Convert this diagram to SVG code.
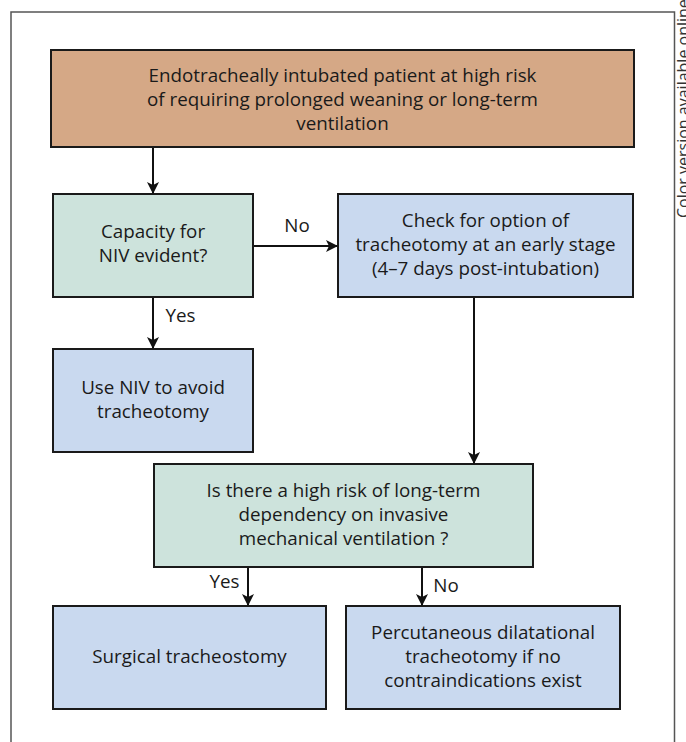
<svg xmlns="http://www.w3.org/2000/svg" width="686" height="742" viewBox="0 0 686 742">
<defs>
<marker id="ah" markerWidth="12" markerHeight="14" refX="11" refY="7" orient="auto" markerUnits="userSpaceOnUse">
<path d="M0,1 L12,7 L0,13 L3,7 Z" fill="#111"/>
</marker>
<style>
.box{stroke:#1a1a1a;stroke-width:2}
.tan{fill:#d5a886}
.grn{fill:#cde3dc}
.blu{fill:#c9d9ef}
text{font-family:"Open Sans","Noto Sans",sans-serif;font-size:18.8px;fill:#1a1a1a;text-anchor:middle}
.conn line{stroke:#111;stroke-width:2;marker-end:url(#ah)}
</style>
</defs>
<rect width="686" height="742" fill="#fff"/>
<path d="M11,742 V12 H674.5 V742" fill="none" stroke="#555" stroke-width="1.5"/>
<text transform="translate(689,218) rotate(-90)" style="font-size:16px;text-anchor:start;fill:#333">Color version available online</text>

<g id="n1">
<rect class="box tan" x="51" y="50" width="583" height="97"/>
<text x="342.5" y="82">Endotracheally intubated patient at high risk</text>
<text x="342.5" y="106">of requiring prolonged weaning or long-term</text>
<text x="342.5" y="130">ventilation</text>
</g>
<g id="n2">
<rect class="box grn" x="53" y="194" width="200" height="103"/>
<text x="153" y="238">Capacity for</text>
<text x="153" y="262">NIV evident?</text>
</g>
<g id="n3">
<rect class="box blu" x="338" y="194" width="295" height="103"/>
<text x="485.5" y="227">Check for option of</text>
<text x="485.5" y="251">tracheotomy at an early stage</text>
<text x="485.5" y="275">(4–7 days post-intubation)</text>
</g>
<g id="n4">
<rect class="box blu" x="53" y="349" width="200" height="103"/>
<text x="153" y="394">Use NIV to avoid</text>
<text x="153" y="418">tracheotomy</text>
</g>
<g id="n5">
<rect class="box grn" x="154" y="464" width="379" height="103"/>
<text x="343.5" y="497">Is there a high risk of long-term</text>
<text x="343.5" y="521">dependency on invasive</text>
<text x="343.5" y="545">mechanical ventilation ?</text>
</g>
<g id="n6">
<rect class="box blu" x="53" y="606" width="273" height="103"/>
<text x="189.5" y="663">Surgical tracheostomy</text>
</g>
<g id="n7">
<rect class="box blu" x="346" y="606" width="274" height="103"/>
<text x="483" y="639">Percutaneous dilatational</text>
<text x="483" y="663">tracheotomy if no</text>
<text x="483" y="687">contraindications exist</text>
</g>

<g id="connectors" class="conn">
<line x1="153" y1="148" x2="153" y2="193"/>
<line x1="254" y1="246" x2="337" y2="246"/>
<line x1="153" y1="298" x2="153" y2="348"/>
<line x1="474" y1="298" x2="474" y2="463"/>
<line x1="248" y1="568" x2="248" y2="605"/>
<line x1="422" y1="568" x2="422" y2="605"/>
</g>
<g id="labels">
<text x="297" y="232">No</text>
<text x="180.5" y="322">Yes</text>
<text x="224.5" y="588">Yes</text>
<text x="446" y="592">No</text>
</g>
</svg>
